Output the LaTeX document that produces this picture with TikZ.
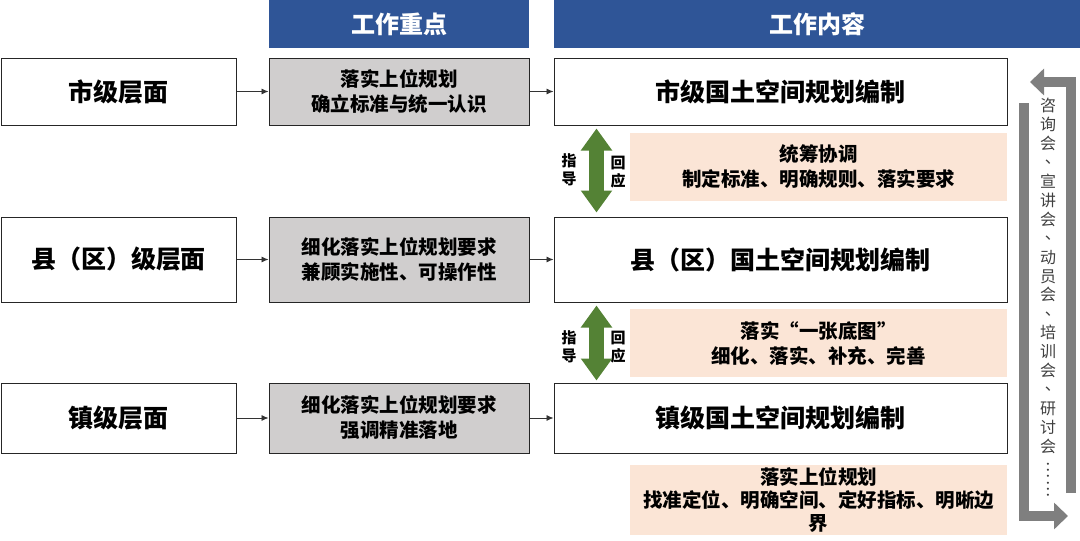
\documentclass[tikz,border=0pt]{standalone}
\usepackage{fontspec}
\setmainfont{Noto Sans CJK SC}
\usepackage{graphicx}
\usetikzlibrary{arrows.meta}
\definecolor{headblue}{HTML}{2F5597}
\definecolor{boxgray}{HTML}{D0CECE}
\definecolor{peach}{HTML}{FBE5D6}
\definecolor{guidegreen}{HTML}{548235}
\definecolor{cyclegray}{HTML}{7F7F7F}
\newcommand{\vcomma}{\makebox[1em][l]{\kern0.3em\raisebox{0.3em}{、}}}
\newcommand{\vdot}{\rotatebox[origin=c]{-90}{…}}

\begin{document}
\begin{tikzpicture}[x=1pt,y=-1pt]

\tikzset{box/.style = {shape=rectangle,draw=black!85,line width=1pt,inner sep=0pt,align=center}}
\tikzset{header/.style = {shape=rectangle,fill=headblue,text=white,inner sep=0pt,minimum height=48pt,font=\fontsize{24}{28}\selectfont\bfseries}}
\tikzset{level/.style = {box,fill=white,minimum width=235pt,font=\fontsize{25}{29}\selectfont\bfseries}}
\tikzset{focus/.style = {box,fill=boxgray,minimum width=260pt,font=\fontsize{19.5}{25}\selectfont\bfseries}}
\tikzset{content/.style = {box,fill=white,minimum width=453pt,font=\fontsize{25}{29}\selectfont\bfseries}}
\tikzset{note/.style = {shape=rectangle,fill=peach,inner sep=0pt,align=center,minimum width=377pt,minimum height=68pt,font=\fontsize{19.5}{25}\selectfont\bfseries}}
\tikzset{side/.style = {align=center,inner sep=0pt,font=\fontsize{15}{18}\selectfont\bfseries}}
\tikzset{meet/.style = {align=center,inner sep=0pt,text=black!75,font=\fontsize{16}{18.9}\selectfont}}
\tikzset{flow/.style = {draw=black!80,line width=0.8pt,-{Latex[length=7pt,width=6pt]}}}
\tikzset{guide/.style = {draw=guidegreen,line width=15pt,{Triangle[width=30pt,length=22pt]}-{Triangle[width=30pt,length=22pt]}}}
\tikzset{cycle/.style = {draw=cyclegray,line width=10pt,line join=miter,-{Triangle[width=26pt,length=14pt]}}}

\useasboundingbox (0,0) rectangle (1080,541);

% headers
\node[header,minimum width=260pt] (h1) at (399,24) {工作重点};
\node[header,minimum width=526pt] (h2) at (817,24) {工作内容};

% levels
\node[level,minimum height=67pt] (l1) at (118.5,91.5) {市级层面};
\node[level,minimum height=85pt] (l2) at (118.5,259.5) {县（区）级层面};
\node[level,minimum height=70pt] (l3) at (118.5,418) {镇级层面};

% focus
\node[focus,minimum height=67pt] (f1) at (399,91.5) {落实上位规划\\确立标准与统一认识};
\node[focus,minimum height=85pt] (f2) at (399,259.5) {细化落实上位规划要求\\兼顾实施性、可操作性};
\node[focus,minimum height=70pt] (f3) at (399,418) {细化落实上位规划要求\\强调精准落地};

% content
\node[content,minimum height=67pt] (c1) at (780.5,91.5) {市级国土空间规划编制};
\node[content,minimum height=85pt] (c2) at (780.5,259.5) {县（区）国土空间规划编制};
\node[content,minimum height=70pt] (c3) at (780.5,418) {镇级国土空间规划编制};

% notes
\node[note] (n1) at (818.5,167) {统筹协调\\制定标准、明确规则、落实要求};
\node[note] (n2) at (818.5,343) {落实“一张底图”\\细化、落实、补充、完善};
\node[note,minimum height=70pt,font=\fontsize{19.5}{23}\selectfont\bfseries] (n3) at (818.5,500) {落实上位规划\\找准定位、明确空间、定好指标、明晰边\\界};

% guide labels
\node[side] (g1) at (569,170) {指\\导};
\node[side] (r1) at (618,172) {回\\应};
\node[side] (g2) at (569,347) {指\\导};
\node[side] (r2) at (618,347) {回\\应};

% meetings
\node[meet] (m) at (1048,298) {咨\\询\\会\\\vcomma\\宣\\讲\\会\\\vcomma\\动\\员\\会\\\vcomma\\培\\训\\会\\\vcomma\\研\\讨\\会\\\vdot\\\vdot};

%edges
\draw[flow] (l1) -- (f1);
\draw[flow] (l2) -- (f2);
\draw[flow] (l3) -- (f3);
\draw[flow] (f1) -- (c1);
\draw[flow] (f2) -- (c2);
\draw[flow] (f3) -- (c3);

\draw[guide] ([xshift=43pt,yshift=-3pt]c1.south west) -- ([xshift=43pt,yshift=4pt]c2.north west);
\draw[guide] ([xshift=43pt,yshift=-3pt]c2.south west) -- ([xshift=43pt,yshift=2pt]c3.north west);

\draw[cycle] (1024,103) |- (1068,516);
\draw[cycle] (1071,493) |- (1030,82);
\end{tikzpicture}
\end{document}
